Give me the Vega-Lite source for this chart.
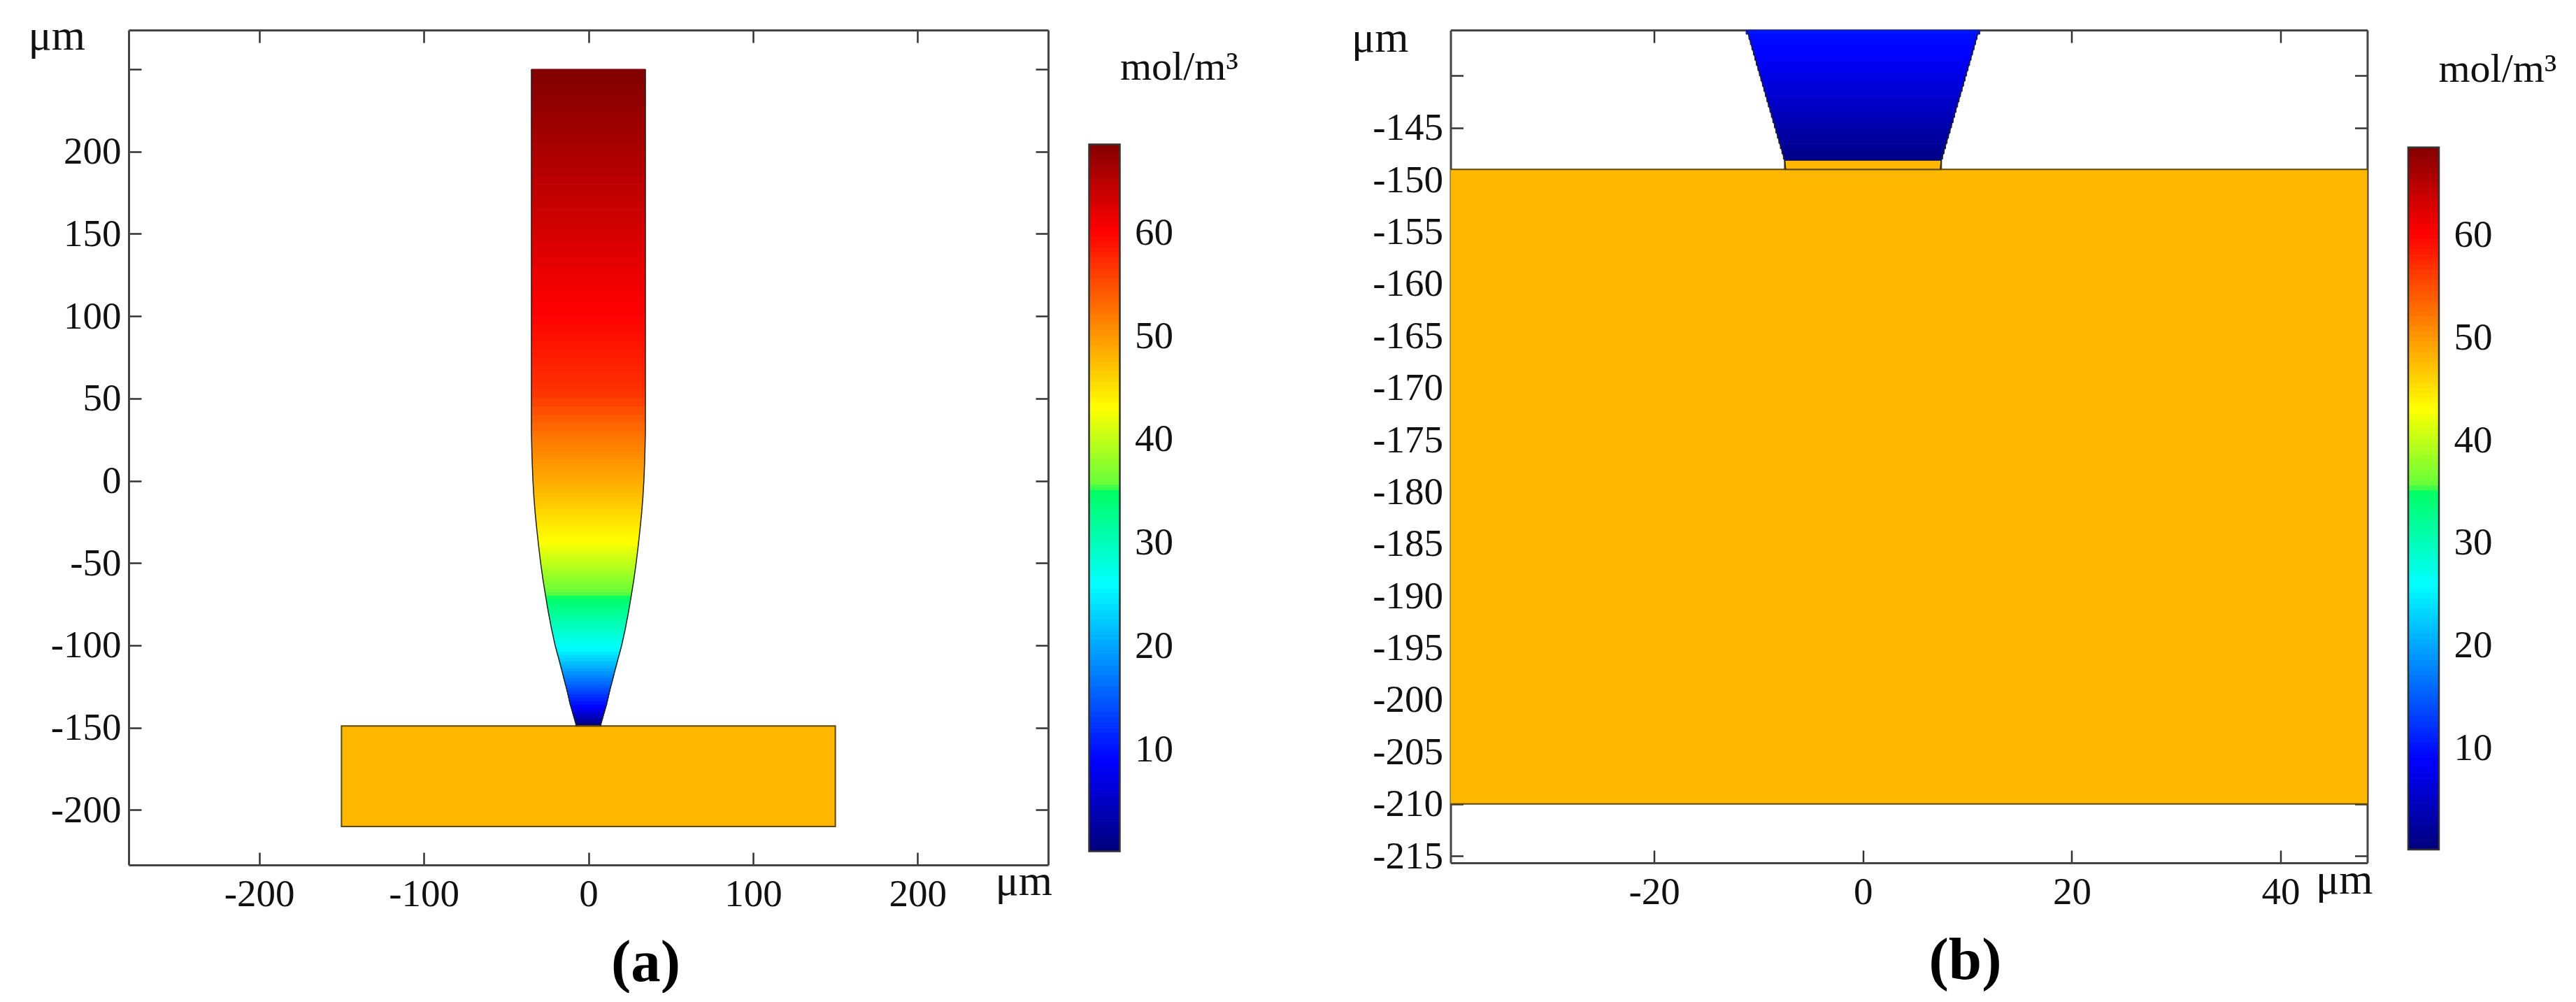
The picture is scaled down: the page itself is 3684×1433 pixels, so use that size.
{
  "$schema": "https://vega.github.io/schema/vega-lite/v6.json",
  "padding": {"left": 40, "top": 20, "right": 0, "bottom": 0},
  "background": "white",
  "datasets": {
    "substrate": [
      {"x0": -150, "x1": 150, "y0": -149, "y1": -210, "c": 47.6},
      {"x0": -7.5, "x1": 7.5, "y0": -148.1, "y1": -149, "c": 47.6}
    ],
    "tip": [
      {"y0":250,"y1":245,"x0":-34.6,"x1":34.6,"c":68.35},{"y0":245,"y1":240,"x0":-34.6,"x1":34.6,"c":68.06},{"y0":240,"y1":235,"x0":-34.6,"x1":34.6,"c":67.77},{"y0":235,"y1":230,"x0":-34.6,"x1":34.6,"c":67.48},
      {"y0":230,"y1":225,"x0":-34.6,"x1":34.6,"c":67.19},{"y0":225,"y1":220,"x0":-34.6,"x1":34.6,"c":66.9},{"y0":220,"y1":215,"x0":-34.6,"x1":34.6,"c":66.6},{"y0":215,"y1":210,"x0":-34.6,"x1":34.6,"c":66.3},
      {"y0":210,"y1":205,"x0":-34.6,"x1":34.6,"c":66.0},{"y0":205,"y1":200,"x0":-34.6,"x1":34.6,"c":65.7},{"y0":200,"y1":195,"x0":-34.6,"x1":34.6,"c":65.45},{"y0":195,"y1":190,"x0":-34.6,"x1":34.6,"c":65.15},
      {"y0":190,"y1":185,"x0":-34.6,"x1":34.6,"c":64.9},{"y0":185,"y1":180,"x0":-34.6,"x1":34.6,"c":64.6},{"y0":180,"y1":175,"x0":-34.6,"x1":34.6,"c":64.3},{"y0":175,"y1":170,"x0":-34.6,"x1":34.6,"c":64.0},
      {"y0":170,"y1":165,"x0":-34.6,"x1":34.6,"c":63.75},{"y0":165,"y1":160,"x0":-34.6,"x1":34.6,"c":63.45},{"y0":160,"y1":155,"x0":-34.6,"x1":34.6,"c":63.15},{"y0":155,"y1":150,"x0":-34.6,"x1":34.6,"c":62.85},
      {"y0":150,"y1":145,"x0":-34.6,"x1":34.6,"c":62.55},{"y0":145,"y1":140,"x0":-34.6,"x1":34.6,"c":62.25},{"y0":140,"y1":135,"x0":-34.6,"x1":34.6,"c":61.95},{"y0":135,"y1":130,"x0":-34.6,"x1":34.6,"c":61.65},
      {"y0":130,"y1":125,"x0":-34.6,"x1":34.6,"c":61.35},{"y0":125,"y1":120,"x0":-34.6,"x1":34.6,"c":61.05},{"y0":120,"y1":115,"x0":-34.6,"x1":34.6,"c":60.75},{"y0":115,"y1":110,"x0":-34.6,"x1":34.6,"c":60.45},
      {"y0":110,"y1":105,"x0":-34.6,"x1":34.6,"c":60.15},{"y0":105,"y1":100,"x0":-34.6,"x1":34.6,"c":59.9},{"y0":100,"y1":95,"x0":-34.6,"x1":34.6,"c":59.6},{"y0":95,"y1":90,"x0":-34.6,"x1":34.6,"c":59.25},
      {"y0":90,"y1":85,"x0":-34.6,"x1":34.6,"c":58.9},{"y0":85,"y1":80,"x0":-34.6,"x1":34.6,"c":58.55},{"y0":80,"y1":75,"x0":-34.6,"x1":34.6,"c":58.2},{"y0":75,"y1":70,"x0":-34.6,"x1":34.6,"c":57.85},
      {"y0":70,"y1":65,"x0":-34.6,"x1":34.6,"c":57.5},{"y0":65,"y1":60,"x0":-34.6,"x1":34.6,"c":57.15},{"y0":60,"y1":55,"x0":-34.6,"x1":34.6,"c":56.8},{"y0":55,"y1":50,"x0":-34.6,"x1":34.6,"c":56.3},
      {"y0":50,"y1":45,"x0":-34.6,"x1":34.6,"c":55.5},{"y0":45,"y1":40,"x0":-34.6,"x1":34.6,"c":54.6},{"y0":40,"y1":35,"x0":-34.6,"x1":34.6,"c":53.8},{"y0":35,"y1":30,"x0":-34.6,"x1":34.6,"c":53.0},
      {"y0":30,"y1":27.5,"x0":-34.58,"x1":34.58,"c":52.25},{"y0":27.5,"y1":25,"x0":-34.54,"x1":34.54,"c":51.9},{"y0":25,"y1":22.5,"x0":-34.5,"x1":34.5,"c":51.6},{"y0":22.5,"y1":20,"x0":-34.45,"x1":34.45,"c":51.25},
      {"y0":20,"y1":17.5,"x0":-34.38,"x1":34.38,"c":50.95},{"y0":17.5,"y1":15,"x0":-34.3,"x1":34.3,"c":50.6},{"y0":15,"y1":12.5,"x0":-34.22,"x1":34.22,"c":50.3},{"y0":12.5,"y1":10,"x0":-34.13,"x1":34.13,"c":49.95},
      {"y0":10,"y1":7.5,"x0":-34.05,"x1":34.05,"c":49.65},{"y0":7.5,"y1":5,"x0":-33.95,"x1":33.95,"c":49.3},{"y0":5,"y1":2.5,"x0":-33.85,"x1":33.85,"c":49},{"y0":2.5,"y1":0,"x0":-33.75,"x1":33.75,"c":48.65},
      {"y0":0,"y1":-2.5,"x0":-33.62,"x1":33.62,"c":48.3},{"y0":-2.5,"y1":-5,"x0":-33.48,"x1":33.48,"c":47.9},{"y0":-5,"y1":-7.5,"x0":-33.33,"x1":33.33,"c":47.55},{"y0":-7.5,"y1":-10,"x0":-33.18,"x1":33.18,"c":47.15},
      {"y0":-10,"y1":-12.5,"x0":-33,"x1":33,"c":46.75},{"y0":-12.5,"y1":-15,"x0":-32.8,"x1":32.8,"c":46.4},{"y0":-15,"y1":-17.5,"x0":-32.6,"x1":32.6,"c":46},{"y0":-17.5,"y1":-20,"x0":-32.4,"x1":32.4,"c":45.6},
      {"y0":-20,"y1":-22.5,"x0":-32.18,"x1":32.18,"c":45.25},{"y0":-22.5,"y1":-25,"x0":-31.93,"x1":31.93,"c":44.85},{"y0":-25,"y1":-27.5,"x0":-31.68,"x1":31.68,"c":44.45},{"y0":-27.5,"y1":-30,"x0":-31.43,"x1":31.43,"c":44.1},
      {"y0":-30,"y1":-32.5,"x0":-31.17,"x1":31.17,"c":43.7},{"y0":-32.5,"y1":-35,"x0":-30.9,"x1":30.9,"c":43.3},{"y0":-35,"y1":-37.5,"x0":-30.63,"x1":30.63,"c":42.95},{"y0":-37.5,"y1":-40,"x0":-30.35,"x1":30.35,"c":42.55},
      {"y0":-40,"y1":-42,"x0":-30.08,"x1":30.08,"c":41.85},{"y0":-42,"y1":-44,"x0":-29.84,"x1":29.84,"c":41.4},{"y0":-44,"y1":-46,"x0":-29.6,"x1":29.6,"c":40.9},{"y0":-46,"y1":-48,"x0":-29.36,"x1":29.36,"c":40.45},
      {"y0":-48,"y1":-50,"x0":-29.12,"x1":29.12,"c":39.95},{"y0":-50,"y1":-52,"x0":-28.85,"x1":28.85,"c":39.5},{"y0":-52,"y1":-54,"x0":-28.57,"x1":28.57,"c":39},{"y0":-54,"y1":-56,"x0":-28.29,"x1":28.29,"c":38.55},
      {"y0":-56,"y1":-58,"x0":-28,"x1":28,"c":38.05},{"y0":-58,"y1":-60,"x0":-27.76,"x1":27.76,"c":37.6},{"y0":-60,"y1":-62,"x0":-27.44,"x1":27.44,"c":37.15},{"y0":-62,"y1":-64,"x0":-27.12,"x1":27.12,"c":36.65},
      {"y0":-64,"y1":-66,"x0":-26.8,"x1":26.8,"c":36.2},{"y0":-66,"y1":-68,"x0":-26.48,"x1":26.48,"c":35.7},{"y0":-68,"y1":-70,"x0":-26.16,"x1":26.16,"c":35.25},{"y0":-70,"y1":-72,"x0":-25.83,"x1":25.83,"c":34.7},
      {"y0":-72,"y1":-74,"x0":-25.49,"x1":25.49,"c":34.1},{"y0":-74,"y1":-76,"x0":-25.15,"x1":25.15,"c":33.55},{"y0":-76,"y1":-78,"x0":-24.81,"x1":24.81,"c":32.95},{"y0":-78,"y1":-80,"x0":-24.47,"x1":24.47,"c":32.4},
      {"y0":-80,"y1":-82,"x0":-24.11,"x1":24.11,"c":31.8},{"y0":-82,"y1":-84,"x0":-23.73,"x1":23.73,"c":31.2},{"y0":-84,"y1":-86,"x0":-23.35,"x1":23.35,"c":30.6},{"y0":-86,"y1":-88,"x0":-22.97,"x1":22.97,"c":30},
      {"y0":-88,"y1":-90,"x0":-22.59,"x1":22.59,"c":29.45},{"y0":-90,"y1":-92,"x0":-22.18,"x1":22.18,"c":28.85},{"y0":-92,"y1":-94,"x0":-21.74,"x1":21.74,"c":28.3},{"y0":-94,"y1":-96,"x0":-21.3,"x1":21.3,"c":27.7},
      {"y0":-96,"y1":-98,"x0":-20.86,"x1":20.86,"c":27.1},{"y0":-98,"y1":-100,"x0":-20.42,"x1":20.42,"c":26.55},{"y0":-100,"y1":-102,"x0":-19.95,"x1":19.95,"c":25.95},{"y0":-102,"y1":-104,"x0":-19.44,"x1":19.44,"c":25.25},
      {"y0":-104,"y1":-106,"x0":-18.87,"x1":18.87,"c":24.3},{"y0":-106,"y1":-108,"x0":-18.3,"x1":18.3,"c":23.4},{"y0":-108,"y1":-110,"x0":-17.78,"x1":17.78,"c":22.45},{"y0":-110,"y1":-112,"x0":-17.25,"x1":17.25,"c":21.5},
      {"y0":-112,"y1":-114,"x0":-16.73,"x1":16.73,"c":20.55},{"y0":-114,"y1":-116,"x0":-16.2,"x1":16.2,"c":19.6},{"y0":-116,"y1":-118,"x0":-15.68,"x1":15.68,"c":18.6},{"y0":-118,"y1":-120,"x0":-15.16,"x1":15.16,"c":17.65},
      {"y0":-120,"y1":-122,"x0":-14.64,"x1":14.64,"c":16.7},{"y0":-122,"y1":-124,"x0":-14.13,"x1":14.13,"c":15.75},{"y0":-124,"y1":-126,"x0":-13.61,"x1":13.61,"c":14.8},{"y0":-126,"y1":-128,"x0":-13.09,"x1":13.09,"c":13.85},
      {"y0":-128,"y1":-130,"x0":-12.58,"x1":12.58,"c":12.9},{"y0":-130,"y1":-132,"x0":-12.12,"x1":12.12,"c":11.9},{"y0":-132,"y1":-134,"x0":-11.66,"x1":11.66,"c":10.95},{"y0":-134,"y1":-136,"x0":-11.2,"x1":11.2,"c":10},
      {"y0":-136,"y1":-136.5,"x0":-10.93,"x1":10.93,"c":9.4},{"y0":-136.5,"y1":-137,"x0":-10.79,"x1":10.79,"c":9.15},{"y0":-137,"y1":-137.5,"x0":-10.65,"x1":10.65,"c":8.9},{"y0":-137.5,"y1":-138,"x0":-10.5,"x1":10.5,"c":8.7},
      {"y0":-138,"y1":-138.5,"x0":-10.36,"x1":10.36,"c":8.4},{"y0":-138.5,"y1":-139,"x0":-10.22,"x1":10.22,"c":8.0},{"y0":-139,"y1":-139.5,"x0":-10.07,"x1":10.07,"c":7.6},{"y0":-139.5,"y1":-140,"x0":-9.93,"x1":9.93,"c":7.2},
      {"y0":-140,"y1":-140.5,"x0":-9.79,"x1":9.79,"c":6.85},{"y0":-140.5,"y1":-141,"x0":-9.64,"x1":9.64,"c":6.45},{"y0":-141,"y1":-141.5,"x0":-9.5,"x1":9.5,"c":6.05},{"y0":-141.5,"y1":-142,"x0":-9.35,"x1":9.35,"c":5.65},
      {"y0":-142,"y1":-142.5,"x0":-9.21,"x1":9.21,"c":5.25},{"y0":-142.5,"y1":-143,"x0":-9.07,"x1":9.07,"c":4.85},{"y0":-143,"y1":-143.5,"x0":-8.92,"x1":8.92,"c":4.45},{"y0":-143.5,"y1":-144,"x0":-8.78,"x1":8.78,"c":4.05},
      {"y0":-144,"y1":-144.5,"x0":-8.64,"x1":8.64,"c":3.65},{"y0":-144.5,"y1":-145,"x0":-8.49,"x1":8.49,"c":3.25},{"y0":-145,"y1":-145.5,"x0":-8.35,"x1":8.35,"c":2.85},{"y0":-145.5,"y1":-146,"x0":-8.2,"x1":8.2,"c":2.45},
      {"y0":-146,"y1":-146.5,"x0":-8.06,"x1":8.06,"c":2.05},{"y0":-146.5,"y1":-147,"x0":-7.92,"x1":7.92,"c":1.65},{"y0":-147,"y1":-147.5,"x0":-7.77,"x1":7.77,"c":1.25},{"y0":-147.5,"y1":-148,"x0":-7.63,"x1":7.63,"c":0.85},
      {"y0":-148,"y1":-148.1,"x0":-7.5,"x1":7.5,"c":0.45}
    ],
    "edge": [
      {"side":"L","x0":-34.6,"y0":250},{"side":"L","x0":-34.6,"y0":30},{"side":"L","x0":-34.4,"y0":20},{"side":"L","x0":-34.1,"y0":10},{"side":"L","x0":-33.7,"y0":0},{"side":"L","x0":-33.1,"y0":-10},{"side":"L","x0":-32.3,"y0":-20},{"side":"L","x0":-31.3,"y0":-30},{"side":"L","x0":-30.2,"y0":-40},{"side":"L","x0":-29,"y0":-50},{"side":"L","x0":-27.6,"y0":-60},{"side":"L","x0":-26,"y0":-70},{"side":"L","x0":-24.3,"y0":-80},{"side":"L","x0":-22.4,"y0":-90},{"side":"L","x0":-20.2,"y0":-100},{"side":"L","x0":-18.3,"y0":-107},{"side":"L","x0":-16.2,"y0":-115},{"side":"L","x0":-12.7,"y0":-128.5},{"side":"L","x0":-11.1,"y0":-135.6},{"side":"L","x0":-7.5,"y0":-148.1},{"side":"L","x0":-7.4,"y0":-149},
      {"side":"R","x0":34.6,"y0":250},{"side":"R","x0":34.6,"y0":30},{"side":"R","x0":34.4,"y0":20},{"side":"R","x0":34.1,"y0":10},{"side":"R","x0":33.7,"y0":0},{"side":"R","x0":33.1,"y0":-10},{"side":"R","x0":32.3,"y0":-20},{"side":"R","x0":31.3,"y0":-30},{"side":"R","x0":30.2,"y0":-40},{"side":"R","x0":29,"y0":-50},{"side":"R","x0":27.6,"y0":-60},{"side":"R","x0":26,"y0":-70},{"side":"R","x0":24.3,"y0":-80},{"side":"R","x0":22.4,"y0":-90},{"side":"R","x0":20.2,"y0":-100},{"side":"R","x0":18.3,"y0":-107},{"side":"R","x0":16.2,"y0":-115},{"side":"R","x0":12.7,"y0":-128.5},{"side":"R","x0":11.1,"y0":-135.6},{"side":"R","x0":7.5,"y0":-148.1},{"side":"R","x0":7.4,"y0":-149}
    ],
    "colorbar": [
      {"c":0.1,"c2":0.6},{"c":0.6,"c2":1.1},{"c":1.1,"c2":1.6},{"c":1.6,"c2":2.1},{"c":2.1,"c2":2.6},{"c":2.6,"c2":3.1},{"c":3.1,"c2":3.6},{"c":3.6,"c2":4.1},{"c":4.1,"c2":4.6},{"c":4.6,"c2":5.1},
      {"c":5.1,"c2":5.6},{"c":5.6,"c2":6.1},{"c":6.1,"c2":6.6},{"c":6.6,"c2":7.1},{"c":7.1,"c2":7.6},{"c":7.6,"c2":8.1},{"c":8.1,"c2":8.6},{"c":8.6,"c2":9.1},{"c":9.1,"c2":9.6},{"c":9.6,"c2":10.1},
      {"c":10.1,"c2":10.6},{"c":10.6,"c2":11.1},{"c":11.1,"c2":11.6},{"c":11.6,"c2":12.1},{"c":12.1,"c2":12.6},{"c":12.6,"c2":13.1},{"c":13.1,"c2":13.6},{"c":13.6,"c2":14.1},{"c":14.1,"c2":14.6},{"c":14.6,"c2":15.1},
      {"c":15.1,"c2":15.6},{"c":15.6,"c2":16.1},{"c":16.1,"c2":16.6},{"c":16.6,"c2":17.1},{"c":17.1,"c2":17.6},{"c":17.6,"c2":18.1},{"c":18.1,"c2":18.6},{"c":18.6,"c2":19.1},{"c":19.1,"c2":19.6},{"c":19.6,"c2":20.1},
      {"c":20.1,"c2":20.6},{"c":20.6,"c2":21.1},{"c":21.1,"c2":21.6},{"c":21.6,"c2":22.1},{"c":22.1,"c2":22.6},{"c":22.6,"c2":23.1},{"c":23.1,"c2":23.6},{"c":23.6,"c2":24.1},{"c":24.1,"c2":24.6},{"c":24.6,"c2":25.1},
      {"c":25.1,"c2":25.6},{"c":25.6,"c2":26.1},{"c":26.1,"c2":26.6},{"c":26.6,"c2":27.1},{"c":27.1,"c2":27.6},{"c":27.6,"c2":28.1},{"c":28.1,"c2":28.6},{"c":28.6,"c2":29.1},{"c":29.1,"c2":29.6},{"c":29.6,"c2":30.1},
      {"c":30.1,"c2":30.6},{"c":30.6,"c2":31.1},{"c":31.1,"c2":31.6},{"c":31.6,"c2":32.1},{"c":32.1,"c2":32.6},{"c":32.6,"c2":33.1},{"c":33.1,"c2":33.6},{"c":33.6,"c2":34.1},{"c":34.1,"c2":34.6},{"c":34.6,"c2":35.1},
      {"c":35.1,"c2":35.6},{"c":35.6,"c2":36.1},{"c":36.1,"c2":36.6},{"c":36.6,"c2":37.1},{"c":37.1,"c2":37.6},{"c":37.6,"c2":38.1},{"c":38.1,"c2":38.6},{"c":38.6,"c2":39.1},{"c":39.1,"c2":39.6},{"c":39.6,"c2":40.1},
      {"c":40.1,"c2":40.6},{"c":40.6,"c2":41.1},{"c":41.1,"c2":41.6},{"c":41.6,"c2":42.1},{"c":42.1,"c2":42.6},{"c":42.6,"c2":43.1},{"c":43.1,"c2":43.6},{"c":43.6,"c2":44.1},{"c":44.1,"c2":44.6},{"c":44.6,"c2":45.1},
      {"c":45.1,"c2":45.6},{"c":45.6,"c2":46.1},{"c":46.1,"c2":46.6},{"c":46.6,"c2":47.1},{"c":47.1,"c2":47.6},{"c":47.6,"c2":48.1},{"c":48.1,"c2":48.6},{"c":48.6,"c2":49.1},{"c":49.1,"c2":49.6},{"c":49.6,"c2":50.1},
      {"c":50.1,"c2":50.6},{"c":50.6,"c2":51.1},{"c":51.1,"c2":51.6},{"c":51.6,"c2":52.1},{"c":52.1,"c2":52.6},{"c":52.6,"c2":53.1},{"c":53.1,"c2":53.6},{"c":53.6,"c2":54.1},{"c":54.1,"c2":54.6},{"c":54.6,"c2":55.1},
      {"c":55.1,"c2":55.6},{"c":55.6,"c2":56.1},{"c":56.1,"c2":56.6},{"c":56.6,"c2":57.1},{"c":57.1,"c2":57.6},{"c":57.6,"c2":58.1},{"c":58.1,"c2":58.6},{"c":58.6,"c2":59.1},{"c":59.1,"c2":59.6},{"c":59.6,"c2":60.1},
      {"c":60.1,"c2":60.6},{"c":60.6,"c2":61.1},{"c":61.1,"c2":61.6},{"c":61.6,"c2":62.1},{"c":62.1,"c2":62.6},{"c":62.6,"c2":63.1},{"c":63.1,"c2":63.6},{"c":63.6,"c2":64.1},{"c":64.1,"c2":64.6},{"c":64.6,"c2":65.1},
      {"c":65.1,"c2":65.6},{"c":65.6,"c2":66.1},{"c":66.1,"c2":66.6},{"c":66.6,"c2":67.1},{"c":67.1,"c2":67.6},{"c":67.6,"c2":68.1},{"c":68.1,"c2":68.5}
    ],
    "barframe": [{"c": 0.1, "c2": 68.5, "x0": 0, "x1": 1}]
  },
  "bounds": "flush",
  "spacing": 58.5,
  "hconcat": [
    {
      "width": 1315,
      "height": 1194,
      "title": {"text": "(a)", "orient": "bottom", "anchor": "start", "frame": "group", "align": "center", "baseline": "alphabetic", "dx": 739.5, "offset": 97, "font": "Liberation Serif", "fontSize": 85, "fontWeight": "bold", "color": "black"},
      "resolve": {"axis": {"x": "independent", "y": "independent"}},
      "layer": [
        {
          "data": {"name": "substrate"},
          "mark": {"type": "rect", "stroke": "#5f4800", "strokeWidth": 2, "clip": true},
          "encoding": {
            "x": {"field": "x0", "type": "quantitative", "scale": {"domain": [-279.3, 279.3], "nice": false, "zero": false},
              "axis": {"orient": "bottom", "values": [-200, -100, 0, 100, 200], "labelExpr": "'' + datum.value", "labelPadding": 33, "title": "μm", "titleX": 1239, "titleY": 42, "titleAlign": "left", "titleBaseline": "alphabetic", "titleFontSize": 62}},
            "x2": {"field": "x1"},
            "y": {"field": "y0", "type": "quantitative", "scale": {"domain": [-233.4, 273.8], "nice": false, "zero": false},
              "axis": {"orient": "left", "values": [-200, -150, -100, -50, 0, 50, 100, 150, 200, 250], "labelExpr": "datum.value == 250 ? '' : '' + datum.value", "title": "μm", "titleX": -144, "titleY": 27, "titleAngle": 0, "titleAlign": "left", "titleBaseline": "alphabetic", "titleFontSize": 62}},
            "y2": {"field": "y1"},
            "fill": {"field": "c", "type": "quantitative", "legend": null, "scale": {"interpolate": "rgb", "domain": [0.1, 8.6, 25.7, 34.6, 35.4, 42.8, 59.9, 68.5], "range": ["#00007f", "#0000ff", "#00ffff", "#00ff66", "#66ff3a", "#ffff00", "#ff0000", "#800000"]}}
          }
        },
        {
          "data": {"name": "tip"},
          "mark": {"type": "rect", "strokeWidth": 1, "clip": true},
          "encoding": {
            "x": {"field": "x0", "type": "quantitative", "scale": {"domain": [-279.3, 279.3], "nice": false, "zero": false},
              "axis": {"orient": "top", "values": [-200, -100, 0, 100, 200], "labels": false, "title": null}},
            "x2": {"field": "x1"},
            "y": {"field": "y0", "type": "quantitative", "scale": {"domain": [-233.4, 273.8], "nice": false, "zero": false},
              "axis": {"orient": "right", "values": [-200, -150, -100, -50, 0, 50, 100, 150, 200, 250], "labels": false, "title": null}},
            "y2": {"field": "y1"},
            "fill": {"field": "c", "type": "quantitative", "legend": null, "scale": {"interpolate": "rgb", "domain": [0.1, 8.6, 25.7, 34.6, 35.4, 42.8, 59.9, 68.5], "range": ["#00007f", "#0000ff", "#00ffff", "#00ff66", "#66ff3a", "#ffff00", "#ff0000", "#800000"]}},
            "stroke": {"field": "c", "type": "quantitative", "legend": null, "scale": {"interpolate": "rgb", "domain": [0.1, 8.6, 25.7, 34.6, 35.4, 42.8, 59.9, 68.5], "range": ["#00007f", "#0000ff", "#00ffff", "#00ff66", "#66ff3a", "#ffff00", "#ff0000", "#800000"]}}
          }
        },
        {
          "data": {"name": "edge"},
          "mark": {"type": "line", "color": "#222222", "strokeWidth": 1.5, "clip": true},
          "encoding": {
            "x": {"field": "x0", "type": "quantitative", "axis": null},
            "y": {"field": "y0", "type": "quantitative", "axis": null},
            "detail": {"field": "side"},
            "order": {"field": "y0", "sort": "descending"}
          }
        }
      ]
    },
    {
      "width": 44,
      "height": 1194,
      "resolve": {"axis": {"y": "independent"}},
      "layer": [
        {
          "data": {"name": "colorbar"},
          "mark": {"type": "rect", "strokeWidth": 1},
          "encoding": {
            "y": {"field": "c", "type": "quantitative", "scale": {"domain": [-1.22, 79.57], "nice": false, "zero": false},
              "axis": {"orient": "right", "values": [10, 20, 30, 40, 50, 60], "domain": false, "tickSize": -8, "labelExpr": "'' + datum.value", "title": "mol/m³", "titleX": 0, "titleY": 70, "titleAngle": 0, "titleAlign": "left", "titleBaseline": "alphabetic", "titleFontSize": 58}},
            "y2": {"field": "c2"},
            "fill": {"field": "c", "type": "quantitative", "legend": null, "scale": {"interpolate": "rgb", "domain": [0.1, 8.6, 25.7, 34.6, 35.4, 42.8, 59.9, 68.5], "range": ["#00007f", "#0000ff", "#00ffff", "#00ff66", "#66ff3a", "#ffff00", "#ff0000", "#800000"]}},
            "stroke": {"field": "c", "type": "quantitative", "legend": null, "scale": {"interpolate": "rgb", "domain": [0.1, 8.6, 25.7, 34.6, 35.4, 42.8, 59.9, 68.5], "range": ["#00007f", "#0000ff", "#00ffff", "#00ff66", "#66ff3a", "#ffff00", "#ff0000", "#800000"]}}
          }
        },
        {
          "data": {"name": "barframe"},
          "mark": {"type": "rect", "fillOpacity": 0, "stroke": "#333333", "strokeWidth": 2.5},
          "encoding": {
            "x": {"field": "x0", "type": "quantitative", "scale": {"domain": [0, 1], "nice": false}, "axis": null},
            "x2": {"field": "x1"},
            "y": {"field": "c", "type": "quantitative",
              "axis": {"orient": "left", "values": [10, 20, 30, 40, 50, 60], "domain": false, "tickSize": -8, "labels": false, "title": null}},
            "y2": {"field": "c2"}
          }
        }
      ]
    },
    {
      "width": 356,
      "height": 1194,
      "data": {"values": []},
      "mark": "rect"
    },
    {
      "width": 1311,
      "height": 1191,
      "title": {"text": "(b)", "orient": "bottom", "anchor": "start", "frame": "group", "align": "center", "baseline": "alphabetic", "dx": 736, "offset": 97, "font": "Liberation Serif", "fontSize": 85, "fontWeight": "bold", "color": "black"},
      "resolve": {"axis": {"x": "independent", "y": "independent"}},
      "layer": [
        {
          "data": {"name": "substrate"},
          "mark": {"type": "rect", "stroke": "#5f4800", "strokeWidth": 2, "clip": true},
          "encoding": {
            "x": {"field": "x0", "type": "quantitative", "scale": {"domain": [-39.5, 48.3], "nice": false, "zero": false},
              "axis": {"orient": "bottom", "values": [-20, 0, 20, 40], "labelExpr": "'' + datum.value", "labelPadding": 33, "title": "μm", "titleX": 1237, "titleY": 43, "titleAlign": "left", "titleBaseline": "alphabetic", "titleFontSize": 62}},
            "x2": {"field": "x1"},
            "y": {"field": "y0", "type": "quantitative", "scale": {"domain": [-215.67, -135.6], "nice": false, "zero": false},
              "axis": {"orient": "left", "values": [-215, -210, -205, -200, -195, -190, -185, -180, -175, -170, -165, -160, -155, -150, -145, -140], "labelExpr": "datum.value == -140 ? '' : '' + datum.value", "title": "μm", "titleX": -142, "titleY": 30, "titleAngle": 0, "titleAlign": "left", "titleBaseline": "alphabetic", "titleFontSize": 62}},
            "y2": {"field": "y1"},
            "fill": {"field": "c", "type": "quantitative", "legend": null, "scale": {"interpolate": "rgb", "domain": [0.1, 8.6, 25.7, 34.6, 35.4, 42.8, 59.9, 68.5], "range": ["#00007f", "#0000ff", "#00ffff", "#00ff66", "#66ff3a", "#ffff00", "#ff0000", "#800000"]}}
          }
        },
        {
          "data": {"name": "tip"},
          "mark": {"type": "rect", "strokeWidth": 1, "clip": true},
          "encoding": {
            "x": {"field": "x0", "type": "quantitative", "scale": {"domain": [-39.5, 48.3], "nice": false, "zero": false},
              "axis": {"orient": "top", "values": [-20, 0, 20, 40], "labels": false, "title": null}},
            "x2": {"field": "x1"},
            "y": {"field": "y0", "type": "quantitative", "scale": {"domain": [-215.67, -135.6], "nice": false, "zero": false},
              "axis": {"orient": "right", "values": [-215, -210, -205, -200, -195, -190, -185, -180, -175, -170, -165, -160, -155, -150, -145, -140], "labels": false, "title": null}},
            "y2": {"field": "y1"},
            "fill": {"field": "c", "type": "quantitative", "legend": null, "scale": {"interpolate": "rgb", "domain": [0.1, 8.6, 25.7, 34.6, 35.4, 42.8, 59.9, 68.5], "range": ["#00007f", "#0000ff", "#00ffff", "#00ff66", "#66ff3a", "#ffff00", "#ff0000", "#800000"]}},
            "stroke": {"field": "c", "type": "quantitative", "legend": null, "scale": {"interpolate": "rgb", "domain": [0.1, 8.6, 25.7, 34.6, 35.4, 42.8, 59.9, 68.5], "range": ["#00007f", "#0000ff", "#00ffff", "#00ff66", "#66ff3a", "#ffff00", "#ff0000", "#800000"]}}
          }
        },
        {
          "data": {"name": "edge"},
          "mark": {"type": "line", "color": "#222222", "strokeWidth": 1.5, "clip": true},
          "encoding": {
            "x": {"field": "x0", "type": "quantitative", "axis": null},
            "y": {"field": "y0", "type": "quantitative", "axis": null},
            "detail": {"field": "side"},
            "order": {"field": "y0", "sort": "descending"}
          }
        }
      ]
    },
    {
      "width": 44,
      "height": 1191,
      "resolve": {"axis": {"y": "independent"}},
      "layer": [
        {
          "data": {"name": "colorbar"},
          "mark": {"type": "rect", "strokeWidth": 1},
          "encoding": {
            "y": {"field": "c", "type": "quantitative", "scale": {"domain": [-1.2, 79.93], "nice": false, "zero": false},
              "axis": {"orient": "right", "values": [10, 20, 30, 40, 50, 60], "domain": false, "tickSize": -8, "labelExpr": "'' + datum.value", "title": "mol/m³", "titleX": -1, "titleY": 73, "titleAngle": 0, "titleAlign": "left", "titleBaseline": "alphabetic", "titleFontSize": 58}},
            "y2": {"field": "c2"},
            "fill": {"field": "c", "type": "quantitative", "legend": null, "scale": {"interpolate": "rgb", "domain": [0.1, 8.6, 25.7, 34.6, 35.4, 42.8, 59.9, 68.5], "range": ["#00007f", "#0000ff", "#00ffff", "#00ff66", "#66ff3a", "#ffff00", "#ff0000", "#800000"]}},
            "stroke": {"field": "c", "type": "quantitative", "legend": null, "scale": {"interpolate": "rgb", "domain": [0.1, 8.6, 25.7, 34.6, 35.4, 42.8, 59.9, 68.5], "range": ["#00007f", "#0000ff", "#00ffff", "#00ff66", "#66ff3a", "#ffff00", "#ff0000", "#800000"]}}
          }
        },
        {
          "data": {"name": "barframe"},
          "mark": {"type": "rect", "fillOpacity": 0, "stroke": "#333333", "strokeWidth": 2.5},
          "encoding": {
            "x": {"field": "x0", "type": "quantitative", "scale": {"domain": [0, 1], "nice": false}, "axis": null},
            "x2": {"field": "x1"},
            "y": {"field": "c", "type": "quantitative",
              "axis": {"orient": "left", "values": [10, 20, 30, 40, 50, 60], "domain": false, "tickSize": -8, "labels": false, "title": null}},
            "y2": {"field": "c2"}
          }
        }
      ]
    }
  ],
  "config": {
    "view": {"stroke": null},
    "axis": {
      "grid": false,
      "zindex": 1,
      "domainColor": "#444444",
      "domainWidth": 3,
      "tickColor": "#333333",
      "tickWidth": 2.5,
      "tickSize": -18,
      "labelFont": "Liberation Serif",
      "labelFontSize": 55,
      "labelColor": "#111111",
      "labelPadding": 29,
      "labelOverlap": false,
      "labelFlush": false,
      "titleFont": "Liberation Serif",
      "titleFontWeight": "normal",
      "titleColor": "#111111",
      "titlePadding": 0
    }
  }
}
